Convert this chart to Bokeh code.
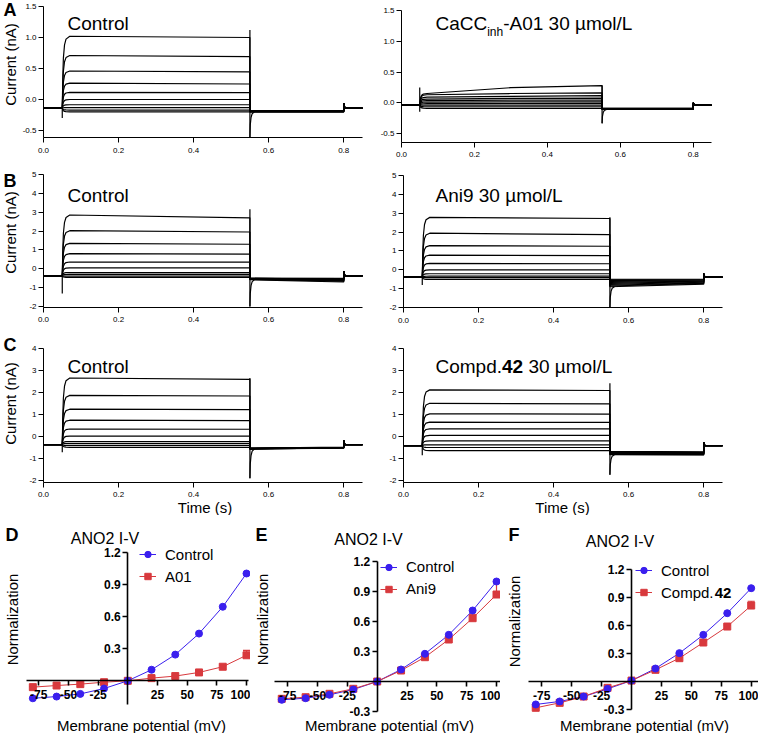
import math
from bokeh.plotting import figure
from bokeh.models import (Range1d, LinearAxis, FixedTicker, NumeralTickFormatter, Label,
                          Legend, LegendItem, Whisker, TeeHead, ColumnDataSource)
from bokeh.layouts import column, row
from bokeh.embed import file_html
from bokeh.resources import INLINE

FONT = "Liberation Sans"
BLUE = "#3A1FEE"
RED = "#D8393D"

# ---------------- current traces (nA) ----------------
T_ON, T_MID, T_OFF, T_TAILOFF, T_END = 0.05, 0.3, 0.55, 0.8, 0.85
RISE_T = [0.05, 0.0515, 0.053, 0.056, 0.06, 0.07]
RISE_F = [0.0, 0.45, 0.7, 0.88, 0.96, 1.0]
CAP_T = [0.55, 0.551, 0.553, 0.556, 0.562]
CAP_F = [1.0, 0.5, 0.22, 0.07, 0.0]
TIME_TICKS = [0.0, 0.2, 0.4, 0.6, 0.8]

# A, Control
A1_HOLD = -0.14
A1_START = [1.02, 0.71, 0.46, 0.265, 0.115, 0.0, -0.085, -0.13, -0.17, -0.2]
A1_END = [1.0, 0.69, 0.445, 0.25, 0.11, 0.0, -0.085, -0.13, -0.17, -0.2]
A1_TAIL_S = [-0.18, -0.18, -0.185, -0.19, -0.19, -0.19, -0.195, -0.195, -0.2, -0.2]
A1_TAIL_E = [-0.18, -0.18, -0.185, -0.19, -0.19, -0.19, -0.195, -0.195, -0.2, -0.2]
A1_SPIKES = dict(on_low=-0.30, on_top=-0.14, cap_low=-0.61, cap_high=1.12, off=-0.06)

# A, CaCCinh-A01
A2_HOLD = -0.04
A2_START = [0.15, 0.13, 0.09, 0.06, 0.035, 0.01, -0.015, -0.04, -0.065, -0.09]
A2_MID = [0.245, 0.15, 0.105, 0.07, 0.042, 0.014, -0.012, -0.04, -0.065, -0.09]
A2_END = [0.28, 0.16, 0.115, 0.075, 0.045, 0.016, -0.01, -0.04, -0.065, -0.09]
A2_TAIL_S = [-0.09, -0.09, -0.095, -0.095, -0.1, -0.1, -0.105, -0.105, -0.11, -0.11]
A2_TAIL_E = [-0.09, -0.09, -0.095, -0.095, -0.1, -0.1, -0.105, -0.105, -0.11, -0.11]
A2_SPIKES = dict(on_low=-0.146, on_top=0.25, cap_low=-0.335, cap_high=0.28, off=0.0)

# B, Control
B1_HOLD = -0.37
B1_START = [2.85, 2.02, 1.35, 0.8, 0.36, 0.05, -0.2, -0.3, -0.39, -0.46]
B1_END = [2.7, 1.95, 1.3, 0.78, 0.35, 0.05, -0.2, -0.3, -0.39, -0.46]
B1_TAIL_S = [-0.5, -0.5, -0.5, -0.51, -0.52, -0.53, -0.54, -0.55, -0.56, -0.58]
B1_TAIL_E = [-0.5, -0.52, -0.54, -0.56, -0.58, -0.6, -0.62, -0.64, -0.66, -0.7]
B1_SPIKES = dict(on_low=-1.31, on_top=-0.37, cap_low=-2.0, cap_high=3.15, off=-0.12)

# B, Ani9
B2_HOLD = -0.39
B2_START = [2.78, 1.94, 1.28, 0.78, 0.34, 0.0, -0.21, -0.34, -0.42, -0.51]
B2_END = [2.72, 1.87, 1.25, 0.75, 0.32, 0.0, -0.21, -0.34, -0.42, -0.51]
B2_TAIL_S = [-0.5, -0.53, -0.57, -0.62, -0.67, -0.72, -0.77, -0.82, -0.86, -0.9]
B2_TAIL_E = [-0.5, -0.52, -0.54, -0.57, -0.6, -0.63, -0.66, -0.69, -0.72, -0.76]
B2_SPIKES = dict(on_low=-0.8, on_top=-0.39, cap_low=-2.0, cap_high=2.79, off=-0.2)

# C, Control
C1_HOLD = -0.37
C1_START = [2.66, 1.87, 1.24, 0.74, 0.34, 0.02, -0.23, -0.32, -0.41, -0.49]
C1_END = [2.6, 1.84, 1.22, 0.72, 0.33, 0.02, -0.23, -0.32, -0.41, -0.49]
C1_TAIL_S = [-0.53, -0.53, -0.54, -0.54, -0.55, -0.55, -0.56, -0.56, -0.57, -0.57]
C1_TAIL_E = [-0.48, -0.49, -0.49, -0.5, -0.5, -0.51, -0.51, -0.52, -0.52, -0.53]
C1_SPIKES = dict(on_low=-0.72, on_top=-0.37, cap_low=-1.9, cap_high=2.66, off=-0.18)

# C, Compd.42
C2_HOLD = -0.42
C2_START = [2.12, 1.51, 1.03, 0.65, 0.35, 0.05, -0.2, -0.38, -0.5, -0.64]
C2_END = [2.09, 1.48, 1.02, 0.64, 0.35, 0.05, -0.2, -0.38, -0.5, -0.64]
C2_TAIL_S = [-0.68, -0.7, -0.71, -0.73, -0.74, -0.76, -0.77, -0.79, -0.81, -0.83]
C2_TAIL_E = [-0.7, -0.72, -0.73, -0.75, -0.76, -0.78, -0.79, -0.8, -0.82, -0.84]
C2_SPIKES = dict(on_low=-0.85, on_top=-0.42, cap_low=-1.74, cap_high=2.42, off=-0.27)

# ---------------- I-V curves ----------------
V_MV = [-80, -60, -40, -20, 0, 20, 40, 60, 80, 100]
IV_XTICKS = [-75, -50, -25, 25, 50, 75, 100]
D_CONTROL = [-0.163, -0.147, -0.122, -0.072, 0.0, 0.103, 0.244, 0.44, 0.69, 1.0]
D_A01 = [-0.059, -0.044, -0.031, -0.013, 0.0, 0.025, 0.044, 0.078, 0.131, 0.238]
D_A01_ERR = [0.005, 0.005, 0.005, 0.005, 0.005, 0.005, 0.008, 0.01, 0.015, 0.046]
E_CONTROL = [-0.183, -0.167, -0.133, -0.08, 0.0, 0.12, 0.277, 0.467, 0.71, 1.0]
E_ANI9 = [-0.173, -0.157, -0.123, -0.073, 0.0, 0.11, 0.243, 0.42, 0.633, 0.87]
E_ANI9_ERR = [0.005, 0.005, 0.005, 0.005, 0.005, 0.008, 0.01, 0.015, 0.03, 0.12]
F_CONTROL = [-0.246, -0.214, -0.161, -0.079, 0.01, 0.139, 0.304, 0.5, 0.732, 1.0]
F_COMPD42 = [-0.282, -0.229, -0.161, -0.068, 0.01, 0.125, 0.25, 0.418, 0.589, 0.814]
F_COMPD42_ERR = [0.005, 0.005, 0.005, 0.005, 0.005, 0.005, 0.008, 0.01, 0.015, 0.046]


class Panel:
    """A figure whose frame fills the whole figure; px = ax + bx*x, py = ay - by*y."""

    def __init__(self, X0, Y0, w, h, ax, bx, ay, by):
        self.X0, self.Y0, self.w, self.h = X0, Y0, w, h
        xr = Range1d((X0 - ax) / bx, (X0 + w - ax) / bx)
        yr = Range1d((ay - (Y0 + h)) / by, (ay - Y0) / by)
        self.p = figure(width=w, height=h, x_range=xr, y_range=yr,
                        x_axis_location=None, y_axis_location=None,
                        output_backend="svg", toolbar_location=None,
                        min_border_left=0, min_border_right=0, min_border_top=0, min_border_bottom=0)
        self.p.outline_line_color = None
        self.p.grid.visible = False

    def text(self, X, Y, text, size, bold=False, align="left", angle=0.0):
        # Y is the vertical centre of the text
        self.p.add_layout(Label(x=X - self.X0, y=(self.Y0 + self.h) - Y, x_units="screen", y_units="screen",
                                text=text, text_font=FONT, text_font_size=f"{size}px",
                                text_font_style="bold" if bold else "normal", text_color="black",
                                text_align=align, text_baseline="middle", angle=angle))


def sweeps(hold, start, end, tail_s, tail_e, sp, mid=None):
    xs, ys = [], []
    for i in range(len(start)):
        x = [0.0, T_ON]
        y = [hold, hold]
        for t, f in zip(RISE_T, RISE_F):
            x.append(t)
            y.append(hold + (start[i] - hold) * f)
        if mid is not None:
            x.append(T_MID)
            y.append(mid[i])
        x += [T_OFF, T_OFF, T_TAILOFF, T_TAILOFF, T_TAILOFF + 0.003, T_END]
        y += [end[i], tail_s[i], tail_e[i], sp["off"], hold, hold]
        xs.append(x)
        ys.append(y)
    return xs, ys


def trace_panel(X0, Y0, w, h, ax, bx, ay, by, ybounds, yticks, yfmt,
                hold, start, end, tail_s, tail_e, sp, mid=None):
    P = Panel(X0, Y0, w, h, ax, bx, ay, by)
    p = P.p
    xa = LinearAxis(fixed_location=ybounds[0], bounds=(0, 0.85), ticker=FixedTicker(ticks=TIME_TICKS),
                    formatter=NumeralTickFormatter(format="0.0"))
    ya = LinearAxis(fixed_location=0, bounds=ybounds, ticker=FixedTicker(ticks=yticks),
                    formatter=NumeralTickFormatter(format=yfmt))
    for a in (xa, ya):
        a.major_tick_out = 5
        a.major_tick_in = 0
        a.minor_tick_line_color = None
        a.axis_line_color = "black"
        a.major_tick_line_color = "black"
        a.major_label_text_font = FONT
        a.major_label_text_font_size = "8px"
        a.major_label_text_color = "black"
    xa.major_label_standoff = 5
    ya.major_label_standoff = 2
    p.add_layout(xa, "below")
    p.add_layout(ya, "left")
    xs, ys = sweeps(hold, start, end, tail_s, tail_e, sp, mid)
    p.multi_line(xs, ys, line_color="black", line_width=1.2)
    p.segment(x0=[T_ON], y0=[sp["on_low"]], x1=[T_ON], y1=[sp["on_top"]], line_color="black", line_width=1.2)
    p.segment(x0=[T_OFF], y0=[sp["cap_low"]], x1=[T_OFF], y1=[sp["cap_high"]], line_color="black", line_width=1.2)
    base = tail_s[-1]
    p.line(CAP_T, [base + (sp["cap_low"] - base) * f for f in CAP_F], line_color="black", line_width=1.2)
    return P


def iv_panel(X0, Y0, w, h, ax, bx, ay, by, xb, yb, yticks, ctl, trt, err, trt_name, leg_loc):
    P = Panel(X0, Y0, w, h, ax, bx, ay, by)
    p = P.p
    xa = LinearAxis(fixed_location=0, bounds=xb, ticker=FixedTicker(ticks=IV_XTICKS),
                    formatter=NumeralTickFormatter(format="0"))
    ya = LinearAxis(fixed_location=0, bounds=yb, ticker=FixedTicker(ticks=yticks),
                    formatter=NumeralTickFormatter(format="0.0"))
    for a in (xa, ya):
        a.axis_line_width = 1.6
        a.major_tick_line_width = 1.6
        a.major_tick_out = 5
        a.major_tick_in = 0
        a.minor_tick_line_color = None
        a.major_label_text_font = FONT
        a.major_label_text_font_size = "12px"
        a.major_label_text_font_style = "bold"
        a.major_label_text_color = "black"
    xa.major_label_standoff = 4
    ya.major_label_standoff = 2
    p.add_layout(xa, "below")
    p.add_layout(ya, "left")

    r1l = p.line(V_MV, ctl, line_color=BLUE, line_width=1)
    r2l = p.line(V_MV, trt, line_color=RED, line_width=1)
    src = ColumnDataSource(dict(v=V_MV, lo=trt, hi=[a + b for a, b in zip(trt, err)]))
    p.add_layout(Whisker(source=src, base="v", lower="lo", upper="hi", line_color=RED, line_width=1.2,
                         upper_head=TeeHead(size=7, line_color=RED, line_width=1.2), lower_head=None))
    r2s = p.scatter(V_MV, trt, marker="square", size=7, fill_color=RED, line_color=RED)
    r1s = p.scatter(V_MV, ctl, marker="circle", size=7, fill_color=BLUE, line_color=BLUE)
    leg = Legend(items=[LegendItem(label="Control", renderers=[r1l, r1s]),
                        LegendItem(label=trt_name, renderers=[r2l, r2s])],
                 location=leg_loc)
    leg.label_text_font = FONT
    leg.label_text_font_size = "15px"
    leg.label_text_color = "black"
    leg.glyph_width = 17
    leg.glyph_height = 16
    leg.label_height = 16
    leg.label_standoff = 9
    leg.spacing = 5
    leg.padding = 0
    leg.margin = 0
    leg.border_line_color = None
    leg.background_fill_alpha = 0
    p.add_layout(leg)
    return P


# ---------------- Row 1 ----------------
A1 = trace_panel(0, 0, 380, 160, 43, 375.3, 99, 62, (-0.613, 1.5), [-0.5, 0.0, 0.5, 1.0, 1.5], "0.0",
                 A1_HOLD, A1_START, A1_END, A1_TAIL_S, A1_TAIL_E, A1_SPIKES)
A1.text(3, 9.5, "A", 18, bold=True)
A1.text(67, 23, "Control", 19)
A1.text(10, 64, "Current (nA)", 15, align="center", angle=math.pi / 2)

A2 = trace_panel(380, 0, 378, 160, 401, 364.7, 102.25, 61.5, (-0.646, 1.5), [-0.5, 0.0, 0.5, 1.0, 1.5], "0.0",
                 A2_HOLD, A2_START, A2_END, A2_TAIL_S, A2_TAIL_E, A2_SPIKES, mid=A2_MID)
A2.text(435, 23, "CaCC", 19)
A2.text(486.7, 31, "inh", 12)
A2.text(502.7, 23, "-A01 30 µmol/L", 19)

# ---------------- Row 2 ----------------
B1 = trace_panel(0, 160, 380, 175, 43, 375.3, 268.3, 18.87, (-2.05, 5), [-2, -1, 0, 1, 2, 3, 4, 5], "0",
                 B1_HOLD, B1_START, B1_END, B1_TAIL_S, B1_TAIL_E, B1_SPIKES)
B1.text(3, 180, "B", 18, bold=True)
B1.text(67, 195, "Control", 19)
B1.text(10, 232, "Current (nA)", 15, align="center", angle=math.pi / 2)

B2 = trace_panel(380, 160, 378, 175, 403, 375.3, 269.3, 18.86, (-2.02, 5), [-2, -1, 0, 1, 2, 3, 4, 5], "0",
                 B2_HOLD, B2_START, B2_END, B2_TAIL_S, B2_TAIL_E, B2_SPIKES)
B2.text(435, 195, "Ani9 30 µmol/L", 19)

# ---------------- Row 3 ----------------
C1 = trace_panel(0, 335, 380, 180, 43, 375.3, 436, 22, (-2.09, 4), [-2, -1, 0, 1, 2, 3, 4], "0",
                 C1_HOLD, C1_START, C1_END, C1_TAIL_S, C1_TAIL_E, C1_SPIKES)
C1.text(3, 344, "C", 18, bold=True)
C1.text(67, 366, "Control", 19)
C1.text(10, 403, "Current (nA)", 15, align="center", angle=math.pi / 2)
C1.text(204.5, 507, "Time (s)", 15, align="center")

C2 = trace_panel(380, 335, 378, 180, 403, 375.3, 436, 22, (-2.09, 4), [-2, -1, 0, 1, 2, 3, 4], "0",
                 C2_HOLD, C2_START, C2_END, C2_TAIL_S, C2_TAIL_E, C2_SPIKES)
C2.text(435, 366, "Compd.", 19)
C2.text(501.5, 366, "42", 19, bold=True)
C2.text(527.9, 366, "30 µmol/L", 19)
C2.text(562, 507, "Time (s)", 15, align="center")

# ---------------- Row 4 ----------------
D = iv_panel(0, 515, 250, 218, 127.3, 1.187, 680.3, 107.3, (-85.5, 101.7), (-0.22, 1.2),
             [0.3, 0.6, 0.9, 1.2], D_CONTROL, D_A01, D_A01_ERR, "A01", (139, 148.5))
D.text(5, 534, "D", 18, bold=True)
D.text(104.5, 538, "ANO2 I-V", 16, align="center")
D.text(12, 619, "Normalization", 15, align="center", angle=math.pi / 2)
D.text(141, 725, "Membrane potential (mV)", 15, align="center")

E = iv_panel(250, 515, 250, 218, 376.7, 1.193, 681, 100, (-86, 104), (-0.3, 1.2),
             [-0.3, 0.3, 0.6, 0.9, 1.2], E_CONTROL, E_ANI9, E_ANI9_ERR, "Ani9", (130, 135.8))
E.text(255, 534, "E", 18, bold=True)
E.text(368, 539, "ANO2 I-V", 16, align="center")
E.text(262, 619, "Normalization", 15, align="center", angle=math.pi / 2)
E.text(389, 725, "Membrane potential (mV)", 15, align="center")

F = iv_panel(500, 515, 258, 218, 631, 1.197, 681, 93.3, (-86, 106), (-0.3, 1.2),
             [-0.3, 0.3, 0.6, 0.9, 1.2], F_CONTROL, F_COMPD42, F_COMPD42_ERR, "Compd.", (135, 132.5))
F.text(508, 534, "F", 18, bold=True)
F.text(619.5, 541, "ANO2 I-V", 16, align="center")
F.text(714.2, 592.7, "42", 15, bold=True)
F.text(514, 621, "Normalization", 15, align="center", angle=math.pi / 2)
F.text(644, 725, "Membrane potential (mV)", 15, align="center")

layout = column(row(A1.p, A2.p), row(B1.p, B2.p), row(C1.p, C2.p), row(D.p, E.p, F.p))

open("out.html", "w").write(file_html(layout, INLINE))
